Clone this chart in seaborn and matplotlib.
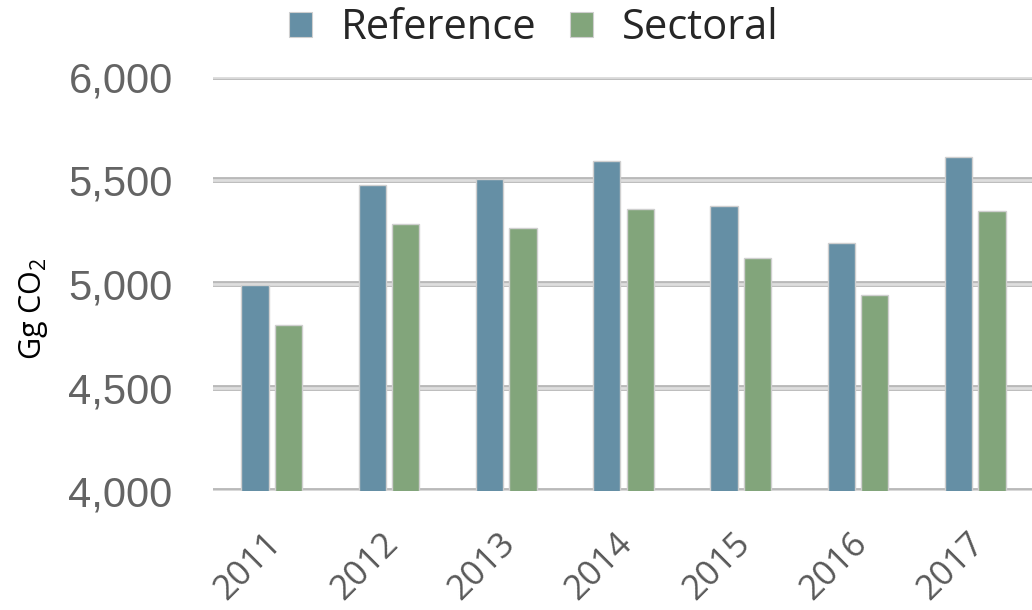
import matplotlib
matplotlib.use("Agg")
import matplotlib.pyplot as plt
import matplotlib.patheffects as pe
import matplotlib.transforms as mtransforms
from matplotlib.patches import Patch
import seaborn as sns
import pandas as pd

# Annual CO2 emissions (Gg) by estimation approach
years = ["2011", "2012", "2013", "2014", "2015", "2016", "2017"]
reference = [4995, 5480, 5508, 5595, 5378, 5200, 5614]
sectoral = [4800, 5292, 5272, 5364, 5128, 4945, 5354]
series_names = ["Reference", "Sectoral"]
series_colors = ["#658fa5", "#82a57b"]
y_ticks = [4000, 4500, 5000, 5500, 6000]

df = pd.DataFrame({
    "year": years * 2,
    "value": reference + sectoral,
    "approach": [series_names[0]] * len(years) + [series_names[1]] * len(years),
})

sns.set_theme(style="white")
plt.rcParams["font.family"] = ["Open Sans", "DejaVu Sans"]
plt.rcParams["mathtext.default"] = "regular"

fig = plt.figure(figsize=(10.32, 6.10), dpi=100)
ax = fig.add_axes([213 / 1032, 0.195, 1 - 213 / 1032, 0.8738 - 0.195])

sns.barplot(
    data=df, x="year", y="value", hue="approach", order=years,
    hue_order=series_names, palette=series_colors, saturation=1,
    width=0.57, gap=0.18, edgecolor="#cfcfcf", linewidth=1.0,
    legend=False, ax=ax, errorbar=None,
)

ax.set_ylim(4000, 6000)
ax.set_xlim(-0.5, 6.5 - 2 / 117.33)
ax.set_yticks(y_ticks)
ax.set_yticklabels([f"{t:,}" for t in y_ticks], family="Liberation Sans",
                   fontsize=30, color="#646464")
ax.set_xticks(range(len(years)))
ax.set_xticklabels(years, rotation=45, ha="right", va="center",
                   rotation_mode="anchor", fontsize=25, color="#595959")
ax.tick_params(axis="y", length=0, pad=29)
ax.tick_params(axis="x", length=0, pad=34)
shift = mtransforms.ScaledTranslation(4 / 100, 0, fig.dpi_scale_trans)
for lbl in ax.get_xticklabels():
    lbl.set_transform(lbl.get_transform() + shift)

for s in ax.spines.values():
    s.set_visible(False)

ax.set_axisbelow(True)
ax.yaxis.grid(True, color="#dedede", linewidth=2.0)
for gl in ax.get_ygridlines():
    gl.set_path_effects([pe.Stroke(linewidth=4.2, foreground="#b9b9b9"), pe.Normal()])

ax.set_xlabel("")
ax.set_ylabel("Gg CO$_2$", fontsize=22, color="black")
ax.yaxis.set_label_coords(-163 / 819, 0.44)

handles = [Patch(facecolor=c, edgecolor="#cfcfcf", linewidth=0.8) for c in series_colors]
fig.legend(handles, series_names, loc="center", bbox_to_anchor=(534 / 1032, 1 - 28 / 610),
           ncol=2, frameon=False, fontsize=30, handlelength=0.55, handleheight=0.55,
           handletextpad=0.7, columnspacing=0.8)

fig.savefig("out.png", dpi=100)
